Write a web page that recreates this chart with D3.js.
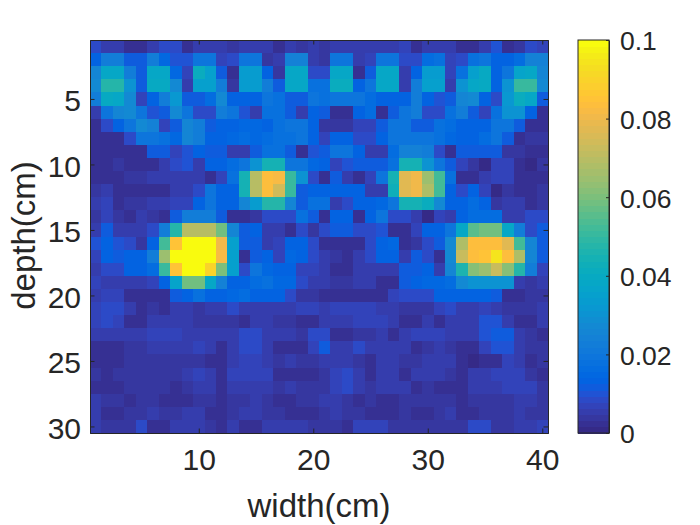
<!DOCTYPE html>
<html lang="en">
<head>
<meta charset="UTF-8">
<title>depth vs width</title>
<script src="https://d3js.org/d3.v7.min.js"></script>
<style>
    html, body { margin: 0; padding: 0; background: #fff; }
    svg { display: block; }
    text { font-family: "Liberation Sans", Arial, sans-serif; fill: #262626; }
</style>
</head>
<body>
<svg id="chart" width="700" height="525"></svg>
<script>
// each row is one depth (1 to 30), each entry one width (1 to 40), in units of 0.001
const heatRows = [
    [9,6,6,3,3,6,8,8,3,6,6,5,4,5,5,5,2,5,4,6,4,6,5,5,5,5,5,7,3,5,6,6,3,3,6,10,3,4,9,7],
    [14,22,22,12,12,22,15,10,10,20,20,7,8,20,20,4,5,24,24,5,4,20,20,5,7,20,20,8,8,16,18,7,8,18,20,14,14,17,24,24],
    [25,38,38,22,12,38,38,15,7,42,35,12,2,33,33,13,4,38,38,8,8,38,38,3,12,38,38,6,13,34,34,7,18,35,40,13,20,36,38,25],
    [28,48,48,30,12,40,40,28,6,35,35,22,4,33,33,22,12,38,38,18,18,42,42,13,20,38,38,6,22,35,35,6,30,38,40,13,30,50,50,27],
    [22,40,38,28,7,14,22,32,11,11,17,28,14,13,13,20,18,12,12,20,18,20,20,20,17,13,13,14,22,14,10,12,26,28,13,8,32,42,38,11],
    [6,20,25,28,20,10,12,28,20,8,8,22,20,10,5,18,18,12,5,14,11,3,3,14,17,3,12,20,22,9,9,18,22,11,7,18,30,30,14,3],
    [3,8,13,20,27,24,7,12,25,22,12,13,13,15,15,14,18,20,20,14,4,4,4,7,7,12,20,20,12,12,18,17,14,14,14,20,20,11,3,3],
    [3,3,3,9,20,20,18,15,26,23,13,13,15,17,15,17,18,18,20,14,7,14,14,8,8,13,20,20,20,20,18,15,14,14,17,20,11,3,4,4],
    [2,3,3,2,3,12,12,7,10,14,12,12,6,6,12,18,18,12,3,10,12,20,20,13,5,5,16,24,24,22,8,3,12,12,12,11,4,4,3,2],
    [2,3,4,3,3,2,6,9,10,5,14,14,17,20,30,45,45,20,20,15,13,7,10,12,12,12,18,45,45,30,20,12,7,4,1,7,7,3,1,4],
    [3,3,2,4,4,5,5,6,5,5,2,7,18,45,70,84,82,50,30,8,2,12,6,2,7,20,45,78,80,65,52,18,3,2,5,7,7,3,3,3],
    [4,6,3,3,2,3,3,5,5,8,20,13,13,45,70,84,75,50,12,13,13,13,13,13,6,6,43,78,80,68,52,13,8,14,7,1,4,3,3,4],
    [5,7,3,4,4,5,5,7,7,14,20,14,14,25,33,48,48,25,11,18,18,6,8,13,13,15,20,45,45,42,28,13,14,17,13,4,6,6,3,4],
    [4,7,4,3,6,4,2,11,22,22,22,12,2,3,4,8,9,9,18,12,2,14,14,3,14,20,9,9,5,1,7,5,13,17,17,17,5,6,9,9],
    [6,12,5,5,6,9,22,48,70,70,70,58,25,12,14,5,5,3,8,4,8,12,12,8,8,10,3,3,7,13,13,20,38,55,58,58,38,22,8,12],
    [10,14,10,8,4,14,52,85,100,100,100,80,35,12,12,5,7,14,14,8,3,3,3,3,8,14,15,3,4,9,12,28,68,83,84,84,78,52,25,12],
    [7,13,11,13,13,22,65,100,100,100,100,82,35,3,11,13,7,15,14,8,5,4,2,6,9,13,13,5,12,9,3,28,72,83,85,94,83,68,25,12],
    [6,8,8,13,13,16,50,85,100,100,90,60,35,9,20,15,13,13,7,7,5,2,2,6,6,5,5,11,12,14,6,25,46,62,65,72,62,48,22,7],
    [7,6,5,6,6,7,14,36,58,58,38,24,14,14,17,18,15,15,8,6,6,4,4,6,6,3,3,11,13,15,15,16,28,30,30,30,30,5,4,5],
    [6,7,7,3,3,3,3,12,14,18,13,13,15,17,13,13,13,8,4,4,2,2,2,2,2,2,7,8,8,8,13,13,13,13,13,12,3,3,4,4],
    [7,8,8,5,3,4,2,5,5,4,6,6,8,6,5,6,5,5,7,7,6,7,7,7,7,6,5,4,4,4,7,9,6,6,7,6,4,4,4,6],
    [7,8,7,3,3,5,5,6,6,4,4,4,4,3,6,5,4,4,2,2,5,5,6,7,7,7,5,3,3,5,3,5,5,5,10,10,6,3,2,5],
    [6,6,6,5,5,7,7,7,6,6,6,6,6,9,9,6,6,6,4,8,8,3,3,4,4,6,3,6,7,7,7,5,5,5,10,12,12,6,4,2],
    [3,3,2,4,4,5,5,6,6,7,5,3,6,8,8,6,2,3,3,7,12,5,6,8,5,5,5,6,2,4,6,4,2,2,7,10,10,6,4,4],
    [3,3,2,4,4,4,4,4,4,4,3,3,6,7,7,6,4,5,4,4,6,6,5,4,2,5,5,4,4,5,6,6,2,1,3,3,7,6,3,4],
    [4,2,4,4,4,4,4,4,5,7,6,2,7,7,7,7,3,3,3,3,4,7,8,5,2,5,5,3,5,5,6,4,2,5,5,7,7,7,4,3],
    [2,3,2,4,4,4,4,2,4,6,5,2,5,6,6,5,4,5,4,4,4,7,8,5,4,5,5,5,3,4,3,3,2,5,5,5,7,7,7,4],
    [6,4,4,2,4,4,2,2,2,4,4,2,4,4,5,4,3,3,4,4,5,5,4,3,4,3,3,4,4,4,4,4,2,4,4,4,4,6,6,4],
    [6,3,3,4,4,5,4,4,5,5,3,2,4,5,5,4,4,3,3,3,4,6,4,4,3,3,3,4,3,3,4,6,2,2,4,4,4,5,4,4],
    [6,4,4,4,8,3,3,5,6,5,4,2,5,3,3,6,5,5,5,4,4,4,2,7,7,7,4,4,4,4,4,4,4,8,8,4,4,5,5,7]
];
const valueUnit = 0.001;

const xTicks = [10, 20, 30, 40];
const yTicks = [5, 10, 15, 20, 25, 30];
const colorTicks = [0, 0.02, 0.04, 0.06, 0.08, 0.1];
const xLabel = "width(cm)";
const yLabel = "depth(cm)";

// parula, 64 levels
const parula = [
    [.2081,.1663,.5292],[.2116,.1898,.5777],[.2123,.2138,.6270],[.2081,.2386,.6771],
    [.1959,.2645,.7279],[.1707,.2919,.7792],[.1253,.3242,.8303],[.0591,.3598,.8683],
    [.0117,.3875,.8820],[.0060,.4086,.8828],[.0165,.4266,.8786],[.0329,.4430,.8720],
    [.0498,.4586,.8641],[.0629,.4737,.8554],[.0723,.4887,.8467],[.0779,.5040,.8384],
    [.0793,.5200,.8312],[.0749,.5375,.8263],[.0641,.5570,.8240],[.0488,.5772,.8228],
    [.0343,.5966,.8199],[.0265,.6137,.8135],[.0239,.6287,.8038],[.0231,.6418,.7913],
    [.0228,.6535,.7768],[.0267,.6642,.7607],[.0384,.6743,.7436],[.0590,.6838,.7254],
    [.0843,.6928,.7062],[.1133,.7015,.6859],[.1453,.7098,.6646],[.1801,.7177,.6424],
    [.2178,.7250,.6193],[.2586,.7317,.5954],[.3022,.7376,.5712],[.3482,.7424,.5473],
    [.3953,.7459,.5244],[.4420,.7481,.5033],[.4871,.7491,.4840],[.5300,.7491,.4661],
    [.5709,.7485,.4494],[.6099,.7473,.4337],[.6473,.7456,.4188],[.6834,.7435,.4044],
    [.7184,.7411,.3905],[.7525,.7384,.3768],[.7858,.7356,.3633],[.8185,.7327,.3498],
    [.8507,.7299,.3360],[.8824,.7274,.3217],[.9139,.7258,.3063],[.9450,.7261,.2886],
    [.9739,.7314,.2666],[.9938,.7455,.2403],[.9990,.7653,.2164],[.9955,.7861,.1967],
    [.9880,.8066,.1794],[.9789,.8271,.1633],[.9697,.8481,.1475],[.9626,.8705,.1309],
    [.9589,.8949,.1132],[.9598,.9218,.0948],[.9661,.9514,.0755],[.9763,.9831,.0538]
].map(c => d3.rgb(c[0] * 255, c[1] * 255, c[2] * 255).formatHex());

const plot = { left: 90, right: 548, top: 40, bottom: 433 };
const bar = { left: 578, right: 609 };
const tickLen = 4.5;
const ink = "#262626";

const svg = d3.select("#chart");

const x = d3.scaleLinear().domain([0.5, 40.5]).range([plot.left, plot.right]);
const y = d3.scaleLinear().domain([0.5, 30.5]).range([plot.top, plot.bottom]);
const color = d3.scaleQuantize().domain([0, 0.1]).range(parula);
const barY = d3.scaleLinear().domain([0, 0.1]).range([plot.bottom, plot.top]);

// heat cells
const cells = heatRows.flatMap((row, r) => row.map((v, c) => ({ col: c + 1, row: r + 1, value: v * valueUnit })));
svg.append("g")
    .attr("shape-rendering", "crispEdges")
    .selectAll("rect")
    .data(cells)
    .join("rect")
    .attr("x", d => x(d.col - 0.5))
    .attr("y", d => y(d.row - 0.5))
    .attr("width", d => x(d.col + 0.5) - x(d.col - 0.5) + 0.5)
    .attr("height", d => y(d.row + 0.5) - y(d.row - 0.5) + 0.5)
    .attr("fill", d => color(d.value));

// colorbar
const barLevels = d3.range(64);
svg.append("g")
    .attr("shape-rendering", "crispEdges")
    .selectAll("rect")
    .data(barLevels)
    .join("rect")
    .attr("x", bar.left)
    .attr("width", bar.right - bar.left)
    .attr("y", i => barY((i + 1) / 64 * 0.1))
    .attr("height", i => barY(i / 64 * 0.1) - barY((i + 1) / 64 * 0.1) + 0.5)
    .attr("fill", i => parula[i]);

function styleAxis(g, size, shift) {
    g.selectAll(".domain").attr("stroke", ink).attr("stroke-width", 1);
    g.selectAll(".tick line").attr("stroke", ink).attr("stroke-width", 1);
    g.selectAll("text").attr("font-size", size).attr("fill", ink);
    if (shift) g.selectAll(".tick text").attr("transform", `translate(0,${shift})`);
}

const axisFont = 30;
const barFont = 26.5;

// plot box axes, ticks pointing in
svg.append("g").attr("transform", `translate(0,${plot.bottom})`)
    .call(d3.axisBottom(x).tickValues(xTicks).tickSizeInner(-tickLen).tickSizeOuter(0).tickPadding(16))
    .call(styleAxis, axisFont);
svg.append("g").attr("transform", `translate(0,${plot.top})`)
    .call(d3.axisTop(x).tickValues(xTicks).tickSizeInner(-tickLen).tickSizeOuter(0).tickFormat(""))
    .call(styleAxis, axisFont);
svg.append("g").attr("transform", `translate(${plot.left},0)`)
    .call(d3.axisLeft(y).tickValues(yTicks).tickSizeInner(-tickLen).tickSizeOuter(0).tickPadding(9))
    .call(styleAxis, axisFont, 2);
svg.append("g").attr("transform", `translate(${plot.right},0)`)
    .call(d3.axisRight(y).tickValues(yTicks).tickSizeInner(-tickLen).tickSizeOuter(0).tickFormat(""))
    .call(styleAxis, axisFont);

// colorbar axis and frame
svg.append("g").attr("transform", `translate(${bar.right},0)`)
    .call(d3.axisRight(barY).tickValues(colorTicks).tickSizeInner(-3).tickSizeOuter(0).tickPadding(11).tickFormat(d3.format("~g")))
    .call(styleAxis, barFont, 1.5);
svg.append("rect")
    .attr("x", bar.left).attr("y", plot.top)
    .attr("width", bar.right - bar.left).attr("height", plot.bottom - plot.top)
    .attr("fill", "none").attr("stroke", ink);

// axis titles
svg.append("text")
    .attr("x", (plot.left + plot.right) / 2).attr("y", 517)
    .attr("text-anchor", "middle").attr("font-size", 33)
    .text(xLabel);
svg.append("text")
    .attr("transform", `translate(35,${(plot.top + plot.bottom) / 2 - 1}) rotate(-90)`)
    .attr("text-anchor", "middle").attr("font-size", 33)
    .text(yLabel);
</script>
</body>
</html>
